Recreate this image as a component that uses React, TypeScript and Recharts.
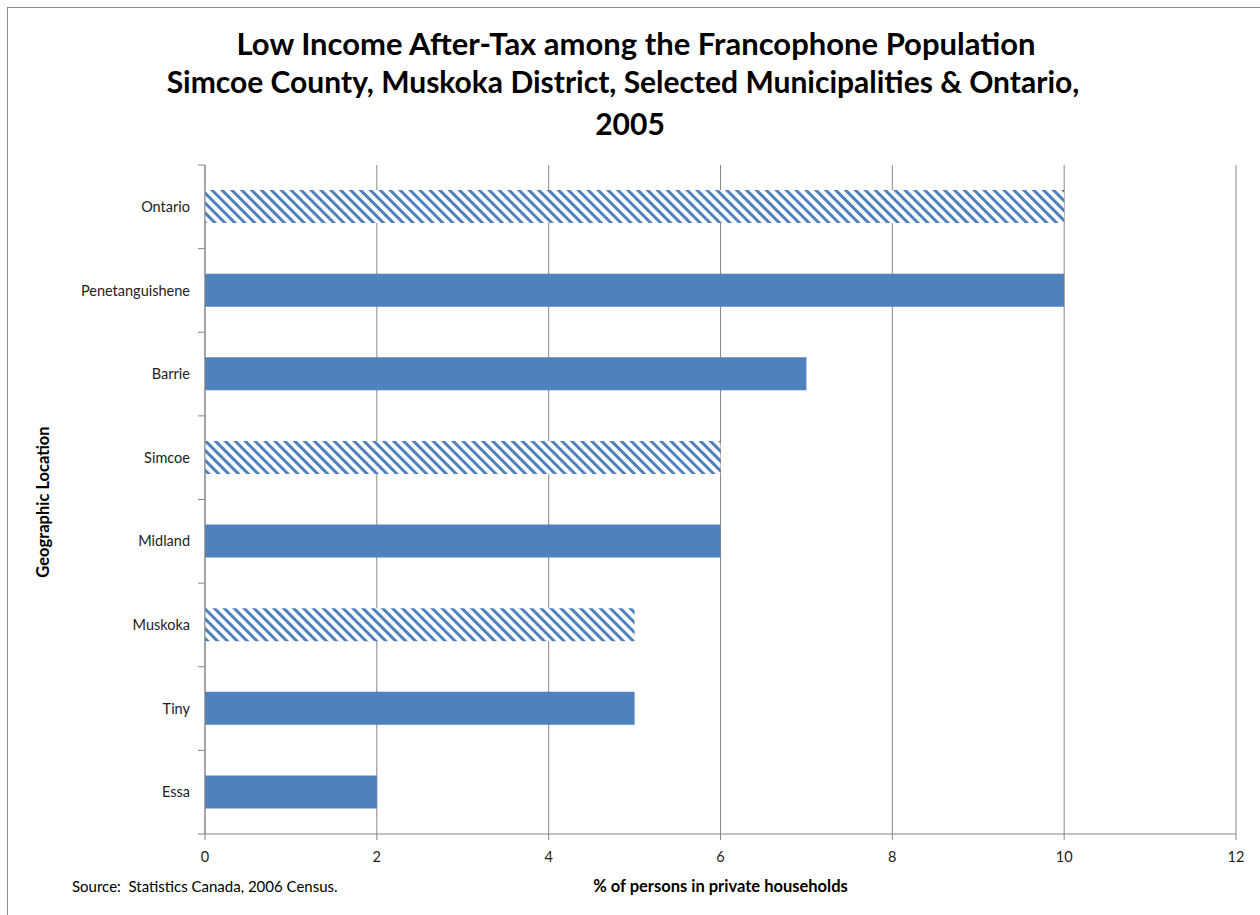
import React from "react";
import { BarChart, Bar, XAxis, YAxis, CartesianGrid, Cell } from "recharts";

const places = ["Ontario", "Penetanguishene", "Barrie", "Simcoe", "Midland", "Muskoka", "Tiny", "Essa"];
const lowIncome = [10, 10, 7, 6, 6, 5, 5, 2];
const hatched = ["Ontario", "Simcoe", "Muskoka"];
const xTicks = [0, 2, 4, 6, 8, 10, 12];

const data = places.map((name, i) => ({ name, value: lowIncome[i] }));

const BLUE = "#4f81bd";
const GRID = "#878787";
const FONT = "Lato, 'Open Sans', sans-serif";

const PLOT_LEFT = 205;
const PLOT_TOP = 165;
const PLOT_BOTTOM = 834;
const BAND = (PLOT_BOTTOM - PLOT_TOP) / places.length;

// category label + the small tick marks that sit between categories
function PlaceTick(props: any) {
  const { y, payload, index } = props;
  return (
    <g>
      <text x={PLOT_LEFT - 15} y={y} dy="0.35em" textAnchor="end" fontSize={14.5} fill="#222" fontFamily={FONT}>
        {payload.value}
      </text>
      {index === 0 && (
        <line x1={PLOT_LEFT - 7} x2={PLOT_LEFT} y1={y - BAND / 2} y2={y - BAND / 2} stroke={GRID} />
      )}
      <line x1={PLOT_LEFT - 7} x2={PLOT_LEFT} y1={y + BAND / 2} y2={y + BAND / 2} stroke={GRID} />
    </g>
  );
}

export default function App() {
  return (
    <div
      style={{
        position: "absolute",
        left: 0,
        top: 0,
        width: 1260,
        height: 915,
        overflow: "hidden",
        background: "#fff",
        fontFamily: FONT,
      }}
    >
      <div
        style={{
          position: "absolute",
          left: 7,
          top: 7,
          width: 1270,
          height: 920,
          border: "1px solid #8c8c8c",
          boxSizing: "border-box",
        }}
      />
      <div
        style={{
          position: "absolute",
          left: 0,
          top: 24,
          width: 1260,
          textAlign: "center",
          fontWeight: 700,
          fontSize: 30,
          lineHeight: "38px",
          color: "#000",
        }}
      >
        <div style={{ marginLeft: 12, fontSize: 31 }}>Low Income After-Tax among the Francophone Population</div>
        <div style={{ marginLeft: -14 }}>Simcoe County, Muskoka District, Selected Municipalities &amp; Ontario,</div>
        <div style={{ marginTop: 4 }}>2005</div>
      </div>
      <div style={{ position: "absolute", left: 0, top: 0 }}>
        <BarChart
          width={1260}
          height={915}
          data={data}
          layout="vertical"
          margin={{ top: PLOT_TOP, right: 24, bottom: 51, left: 5 }}
          barSize={33}
        >
          <defs>
            <pattern id="hatch" width="7" height="7" patternUnits="userSpaceOnUse" patternTransform="rotate(-45)">
              <rect width="7" height="7" fill="#fff" />
              <rect width="3" height="7" fill={BLUE} />
            </pattern>
          </defs>
          <CartesianGrid horizontal={false} stroke={GRID} strokeWidth={1} />
          <XAxis
            type="number"
            domain={[0, 12]}
            ticks={xTicks}
            height={30}
            axisLine={{ stroke: GRID }}
            tickLine={{ stroke: GRID }}
            tickSize={6}
            tickMargin={12}
            tick={{ fontSize: 14.5, fill: "#222", fontFamily: FONT }}
            interval={0}
          />
          <YAxis
            type="category"
            dataKey="name"
            width={200}
            axisLine={{ stroke: GRID }}
            tickLine={false}
            tick={<PlaceTick />}
            interval={0}
          />
          <Bar dataKey="value" isAnimationActive={false}>
            {data.map((d) => (
              <Cell key={d.name} fill={hatched.includes(d.name) ? "url(#hatch)" : BLUE} />
            ))}
          </Bar>
        </BarChart>
      </div>
      <div
        style={{
          position: "absolute",
          left: 43,
          top: 502,
          transform: "translate(-50%, -50%) rotate(-90deg)",
          whiteSpace: "nowrap",
          fontWeight: 700,
          fontSize: 16.5,
          color: "#000",
        }}
      >
        Geographic Location
      </div>
      <div style={{ position: "absolute", left: 72, top: 877, fontSize: 15, color: "#000" }}>
        Source:&nbsp; Statistics Canada, 2006 Census.
      </div>
      <div
        style={{
          position: "absolute",
          left: 205,
          width: 1031,
          top: 876,
          textAlign: "center",
          fontWeight: 700,
          fontSize: 16.5,
          color: "#000",
        }}
      >
        % of persons in private households
      </div>
    </div>
  );
}
